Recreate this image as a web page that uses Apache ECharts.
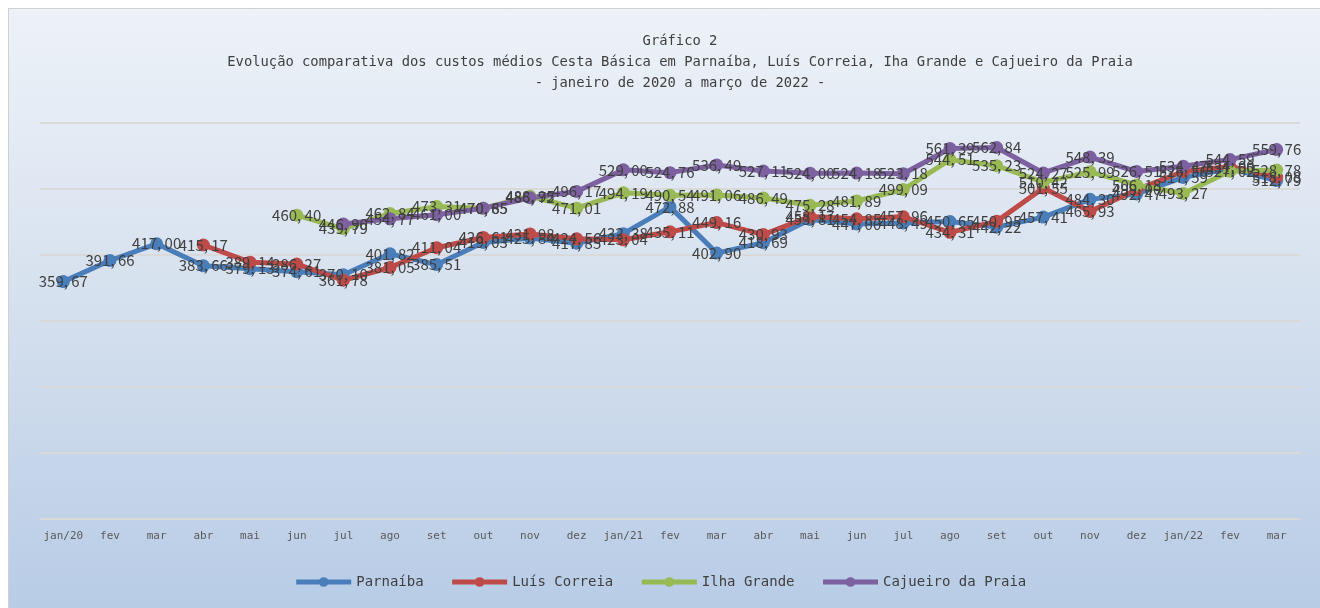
<!DOCTYPE html>
<html>
<head>
<meta charset="utf-8">
<script src="https://cdn.jsdelivr.net/npm/echarts@6/dist/echarts.min.js"></script>
<style>
  html, body { margin: 0; padding: 0; background: #fff; }
  .wrap {
    position: absolute; left: 8px; top: 8px; width: 1312px; height: 600px;
    border-left: 1px solid #d0d0d0; border-top: 1px solid #d0d0d0;
    background: linear-gradient(to bottom, #edf2f8 0%, #d5e0ee 50%, #b8cce6 100%);
  }
  #chart { width: 1320px; height: 608px; position: absolute; left: 0; top: 0; }
</style>
</head>
<body>
<div class="wrap"></div>
<div id="chart"></div>
<script>
  // meses jan/2020 .. mar/2022
  const months = ['jan/20', 'fev', 'mar', 'abr', 'mai', 'jun', 'jul', 'ago', 'set', 'out', 'nov', 'dez',
    'jan/21', 'fev', 'mar', 'abr', 'mai', 'jun', 'jul', 'ago', 'set', 'out', 'nov', 'dez',
    'jan/22', 'fev', 'mar'];

  const parnaiba = [359.67, 391.66, 417.00, 383.66, 379.13, 374.61, 370.10, 401.82, 385.51, 419.03, 425.84, 417.85,
    432.38, 472.88, 402.90, 418.69, 453.81, 447.00, 448.49, 450.65, 442.22, 457.41, 484.30, 492.47,
    517.59, 531.00, 512.79];
  const luisCorreia = [null, null, null, 415.17, 389.14, 386.27, 361.78, 381.05, 411.04, 426.61, 431.98, 424.56,
    423.04, 435.11, 449.16, 430.93, 458.17, 454.85, 457.96, 434.31, 450.95, 501.55, 465.93, 499.00,
    526.56, 534.00, 518.08];
  const ilhaGrande = [null, null, null, null, null, 460.40, 439.79, 462.84, 473.31, 470.65, 488.95, 471.01,
    494.19, 490.54, 491.06, 486.49, 475.28, 481.89, 499.09, 544.51, 535.23, 510.42, 525.99, 506.18,
    493.27, 527.02, 528.78];
  const cajueiro = [null, null, null, null, null, null, 446.90, 454.77, 461.00, 470.85, 486.72, 496.17,
    529.00, 524.76, 536.49, 527.11, 524.00, 524.18, 523.18, 561.39, 562.84, 524.27, 548.39, 526.51,
    534.47, 544.59, 559.76];

  const seriesDefs = [
    { name: 'Parnaíba', data: parnaiba, color: '#4a7ebb' },
    { name: 'Luís Correia', data: luisCorreia, color: '#be4b48' },
    { name: 'Ilha Grande', data: ilhaGrande, color: '#98b954' },
    { name: 'Cajueiro da Praia', data: cajueiro, color: '#7d60a0' },
  ];

  const font = '"Noto Sans CJK JP", "Noto Sans", sans-serif';
  const mono = '"DejaVu Sans Mono", "Liberation Mono", monospace';
  const chart = echarts.init(document.getElementById('chart'));

  chart.setOption({
    backgroundColor: 'transparent',
    animation: false,
    title: {
      text: 'Gráfico 2\nEvolução comparativa dos custos médios Cesta Básica em Parnaíba, Luís Correia, Iha Grande e Cajueiro da Praia\n- janeiro de 2020 a março de 2022 -',
      left: 675,
      textAlign: 'center',
      top: 26,
      textStyle: {
        fontFamily: mono,
        fontSize: 13.8,
        fontWeight: 'normal',
        color: '#404040',
        lineHeight: 21,
      },
    },
    legend: {
      bottom: 14,
      left: 'center',
      itemWidth: 55,
      itemHeight: 12,
      itemGap: 26,
      textStyle: { fontFamily: mono, fontSize: 14, color: '#404040' },
      data: seriesDefs.map(s => ({ name: s.name, lineStyle: { width: 5 } })),
    },
    grid: { left: 40, right: 20, top: 123, bottom: 89 },
    xAxis: {
      type: 'category',
      data: months,
      boundaryGap: true,
      axisLine: { lineStyle: { color: '#d9d9d9', width: 2 } },
      axisTick: { show: false },
      axisLabel: { fontFamily: mono, fontSize: 11, color: '#595959', margin: 12, interval: 0 },
    },
    yAxis: {
      type: 'value',
      min: 0,
      max: 600,
      interval: 100,
      axisLabel: { show: false },
      axisLine: { show: false },
      axisTick: { show: false },
      splitLine: { lineStyle: { color: '#d9d9d9', width: 2 } },
    },
    series: seriesDefs.map(s => ({
      name: s.name,
      type: 'line',
      data: s.data,
      color: s.color,
      symbol: 'circle',
      symbolSize: 13,
      lineStyle: { width: 5, color: s.color },
      itemStyle: { color: s.color },
      label: {
        show: true,
        position: 'inside',
        fontFamily: font,
        fontSize: 15,
        color: '#404040',
        formatter: p => p.value == null ? '' : p.value.toFixed(2).replace('.', ', '),
      },
      labelLayout: { hideOverlap: false },
    })),
  });
</script>
</body>
</html>
